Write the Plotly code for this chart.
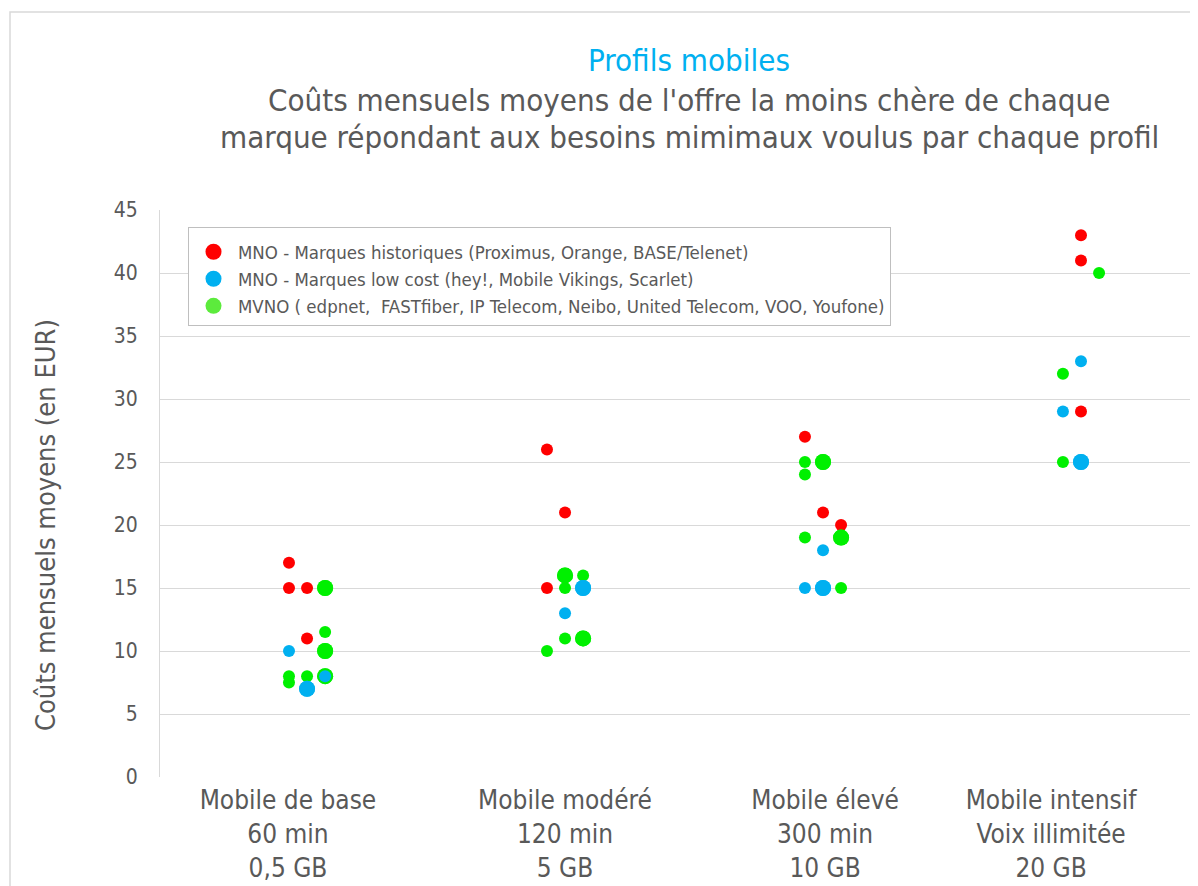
import plotly.graph_objects as go
from collections import Counter

# ---------------- data ----------------
categories = ["Mobile de base<br>60 min<br>0,5 GB",
              "Mobile modéré<br>120 min<br>5 GB",
              "Mobile élevé<br>300 min<br>10 GB",
              "Mobile intensif<br>Voix illimitée<br>20 GB"]

series_names = ["MNO - Marques historiques (Proximus, Orange, BASE/Telenet)",
                "MNO - Marques low cost (hey!, Mobile Vikings, Scarlet)",
                "MVNO ( edpnet, \u00a0FASTfiber, IP Telecom, Neibo, United Telecom, VOO, Youfone)"]

# scatter x values (category index with small shift) and monthly cost (EUR)
red_x = [0.93, 0.93, 1.00, 1.00, 1.93, 2.00, 1.93, 2.93, 3.00, 3.07, 4.00, 4.00, 4.00]
red_y = [17, 15, 15, 11, 26, 21, 15, 27, 21, 20, 43, 41, 29]

blue_x = [0.93, 1.07, 1.00, 1.00, 2.07, 2.07, 2.00, 3.00, 2.93, 3.00, 3.00, 4.00, 3.93, 4.00, 4.00]
blue_y = [10, 8, 7, 7, 15, 15, 13, 18, 15, 15, 15, 33, 29, 25, 25]

green_x = [1.07, 1.07, 1.07, 1.07, 1.07, 0.93, 0.93, 1.00, 1.07, 1.07,
           2.00, 2.00, 2.07, 2.00, 2.00, 2.07, 2.07, 1.93,
           2.93, 3.00, 3.00, 2.93, 2.93, 3.07, 3.07, 3.07,
           4.07, 3.93, 3.93]
green_y = [15, 15, 11.5, 10, 10, 8, 7.5, 8, 8, 8,
           16, 16, 16, 15, 11, 11, 11, 10,
           25, 25, 25, 24, 19, 19, 19, 15,
           40, 32, 25]

label_pos = [0.926, 2.0, 3.008, 3.884]
y_ticks = [0, 5, 10, 15, 20, 25, 30, 35, 40, 45]

title_main = "Profils mobiles"
subtitle_lines = ["Coûts mensuels moyens de l'offre la moins chère de chaque",
                  "marque répondant aux besoins mimimaux voulus par chaque profil"]
y_title = "Coûts mensuels moyens (en EUR)"

# ---------------- styles ----------------
RED = "#FF0000"
BLUE = "#00B0F0"
GREEN = "#00F000"
GREEN_LEG = "#5CEB3C"
GREY = "#595959"
GRID = "#D9D9D9"
FONT = "DejaVu Sans Condensed, DejaVu Sans, sans-serif"

# plot area in page pixels (page offset 8 px by body margin)
PL, PR, PT, PB = 160, 1190, 210, 777
W, H = PR - PL, PB - PT


def px_x(x):
    return (x - PL) / W


def px_y(y):
    return (PB - y) / H


def sizes(xs, ys):
    c = Counter(zip(xs, ys))
    return [16 if c[(x, y)] > 1 else 12 for x, y in zip(xs, ys)]


fig = go.Figure()
# draw order: red, green, blue
for xs, ys, col in [(red_x, red_y, RED), (green_x, green_y, GREEN), (blue_x, blue_y, BLUE)]:
    fig.add_trace(go.Scatter(x=xs, y=ys, mode="markers", showlegend=False,
                             marker=dict(color=col, size=sizes(xs, ys), opacity=1,
                                         line=dict(width=0)),
                             hoverinfo="y"))
# legend entries
for name, col in zip(series_names, [RED, BLUE, GREEN_LEG]):
    fig.add_trace(go.Scatter(x=[None], y=[None], mode="markers", name=name,
                             marker=dict(color=col, size=18, opacity=1)))

fig.update_layout(
    width=1190, height=878,
    margin=dict(l=PL - 8, r=1198 - PR, t=PT - 8, b=886 - PB, autoexpand=False),
    paper_bgcolor="white", plot_bgcolor="white",
    font=dict(family=FONT, color=GREY),
    showlegend=True,
    legend=dict(x=px_x(188), y=px_y(227), xanchor="left", yanchor="top",
                bgcolor="white", bordercolor="#BFBFBF", borderwidth=1,
                font=dict(size=18.5, color=GREY, family=FONT),
                title=dict(text=" ", font=dict(size=4)),
                itemsizing="trace", itemwidth=39, tracegroupgap=0),
    xaxis=dict(range=[0.43, 4.4225], tickmode="array", tickvals=label_pos,
               ticktext=categories, showgrid=False, zeroline=False,
               showline=False, tickfont=dict(size=26, color=GREY),
               ticks="outside", ticklen=0, tickcolor="rgba(0,0,0,0)",
               automargin=False),
    yaxis=dict(range=[0, 45], tickmode="array", tickvals=y_ticks,
               showgrid=True, gridcolor=GRID, gridwidth=1, zeroline=False,
               showline=True, linecolor=GRID, linewidth=1,
               tickfont=dict(size=21, color=GREY), ticks="outside",
               ticklen=17, tickcolor="rgba(0,0,0,0)", automargin=False),
)

# titles
fig.add_annotation(text=title_main, xref="paper", yref="paper",
                   x=px_x(689), y=px_y(60), xanchor="center", yanchor="middle",
                   showarrow=False, font=dict(size=31, color="#00B0F0", family=FONT))
for line, yy in zip(subtitle_lines, [100, 137]):
    fig.add_annotation(text=line, xref="paper", yref="paper",
                       x=px_x(689), y=px_y(yy), xanchor="center", yanchor="middle",
                       showarrow=False, font=dict(size=31, color=GREY, family=FONT))
fig.add_annotation(text=y_title, xref="paper", yref="paper",
                   x=px_x(45), y=px_y(525), xanchor="center", yanchor="middle",
                   textangle=-90, showarrow=False, font=dict(size=27, color=GREY, family=FONT))

# chart border
fig.add_shape(type="rect", xref="paper", yref="paper",
              x0=px_x(10), x1=1.2, y0=-0.4, y1=px_y(12),
              line=dict(color=GRID, width=1.5), layer="below")

fig.write_html("out.html")
